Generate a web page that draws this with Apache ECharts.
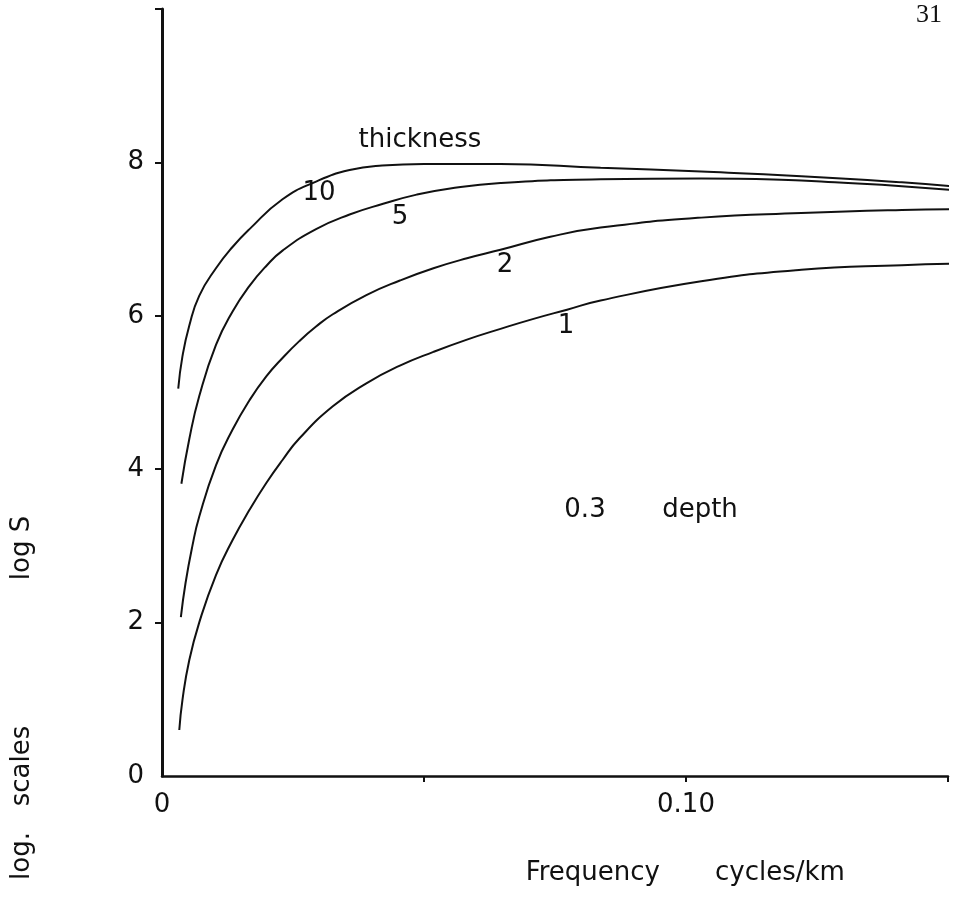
<!DOCTYPE html>
<html>
<head>
<meta charset="utf-8">
<script src="https://cdn.jsdelivr.net/npm/echarts@6/dist/echarts.min.js"></script>
<style>
  html, body { margin: 0; padding: 0; background: #fff; }
  #chart { width: 971px; height: 898px; }
</style>
</head>
<body>
<div id="chart"></div>
<script>
// Curve data: [frequency (cycles/km), log S] for each thickness
const thickness10 = [[0.0031,5.05],[0.0039,5.47],[0.0052,5.87],[0.0071,6.26],[0.0103,6.62],[0.0135,6.9],[0.0167,7.13],[0.023,7.52],[0.0294,7.75],[0.0358,7.9],[0.042,7.96],[0.05,7.98],[0.0646,7.98],[0.0837,7.93],[0.1029,7.88],[0.122,7.82],[0.1412,7.74],[0.1504,7.69]];
const thickness5 = [[0.0037,3.81],[0.0052,4.39],[0.0071,4.95],[0.0103,5.62],[0.0135,6.06],[0.0167,6.39],[0.0199,6.65],[0.023,6.85],[0.0294,7.13],[0.0358,7.32],[0.0422,7.46],[0.0486,7.58],[0.055,7.66],[0.0646,7.73],[0.0837,7.78],[0.1029,7.79],[0.122,7.765],[0.1284,7.74],[0.1412,7.69],[0.1508,7.64]];
const thickness2 = [[0.0036,2.07],[0.0045,2.52],[0.0058,3.0],[0.0071,3.38],[0.0103,4.05],[0.0135,4.52],[0.0167,4.9],[0.0199,5.21],[0.023,5.45],[0.0262,5.67],[0.0294,5.86],[0.0326,6.02],[0.039,6.27],[0.0454,6.46],[0.0518,6.62],[0.0582,6.75],[0.0646,6.86],[0.0741,7.03],[0.0837,7.15],[0.1029,7.28],[0.122,7.34],[0.1412,7.38],[0.152,7.39]];
const thickness1 = [[0.0033,0.6],[0.0039,0.99],[0.0052,1.51],[0.0071,2.0],[0.0103,2.62],[0.0135,3.08],[0.0167,3.47],[0.0199,3.82],[0.023,4.12],[0.0262,4.4],[0.0326,4.82],[0.039,5.12],[0.0454,5.35],[0.0518,5.53],[0.0582,5.69],[0.0646,5.83],[0.0709,5.96],[0.0773,6.08],[0.0837,6.2],[0.1029,6.45],[0.122,6.6],[0.1412,6.66],[0.153,6.68]];

const yTickLabels = ['0','2','4','6','8'];
const xTickLabels = {0: '0', 0.1: '0.10'};

const FONT = '"DejaVu Sans", sans-serif';
const INK = '#111';

const chart = echarts.init(document.getElementById('chart'), null, {renderer: 'canvas'});

function lineSeries(name, data) {
  return {
    name: name, type: 'line', data: data, smooth: true, showSymbol: false,
    symbol: 'none', clip: false,
    lineStyle: {color: INK, width: 2}, z: 3
  };
}

function txt(x, y, text, size, opts) {
  opts = opts || {};
  return {
    type: 'text', x: x, y: y, rotation: opts.rotation || 0,
    style: {text: text, font: size + 'px ' + (opts.font || FONT), fill: INK,
            align: opts.align || 'center', verticalAlign: 'middle'}
  };
}

const option = {
  animation: false,
  backgroundColor: '#fff',
  grid: {left: 162, right: 23, top: 9, bottom: 122, containLabel: false},
  xAxis: {
    type: 'value', min: 0, max: 0.15, interval: 0.05,
    axisLine: {show: true, lineStyle: {color: INK, width: 2.5}},
    axisTick: {show: true, length: 6, lineStyle: {color: INK, width: 2}, customValues: [0.05, 0.1, 0.15]},
    splitLine: {show: false},
    axisLabel: {
      margin: 16, color: INK, fontFamily: FONT, fontSize: 26,
      formatter: function (v) {
        for (const k in xTickLabels) { if (Math.abs(v - Number(k)) < 1e-9) return xTickLabels[k]; }
        return '';
      }
    }
  },
  yAxis: {
    type: 'value', min: 0, max: 10, interval: 2,
    axisLine: {show: true, lineStyle: {color: INK, width: 3}},
    axisTick: {show: true, length: 7, lineStyle: {color: INK, width: 2}, customValues: [2, 4, 6, 8, 10]},
    splitLine: {show: false},
    axisLabel: {
      margin: 18, color: INK, fontFamily: FONT, fontSize: 26,
      formatter: function (v) { const s = String(v); return yTickLabels.indexOf(s) >= 0 ? s : ''; }
    }
  },
  series: [
    lineSeries('10', thickness10),
    lineSeries('5', thickness5),
    lineSeries('2', thickness2),
    lineSeries('1', thickness1)
  ],
  graphic: [
    txt(929, 15, '31', 26, {font: '"Liberation Serif", serif'}),
    txt(420, 140, 'thickness', 26),
    txt(319, 193, '10', 26),
    txt(400, 217, '5', 26),
    txt(505, 265, '2', 26),
    txt(566, 326, '1', 26),
    txt(585, 510, '0.3', 26),
    txt(700, 510, 'depth', 26),
    txt(660, 873, 'Frequency', 26, {align: 'right'}),
    txt(715, 873, 'cycles/km', 26, {align: 'left'}),
    txt(22, 548, 'log S', 26, {rotation: Math.PI / 2}),
    txt(22, 766, 'scales', 26, {rotation: Math.PI / 2}),
    txt(22, 856, 'log.', 26, {rotation: Math.PI / 2})
  ]
};
chart.setOption(option);
</script>
</body>
</html>
